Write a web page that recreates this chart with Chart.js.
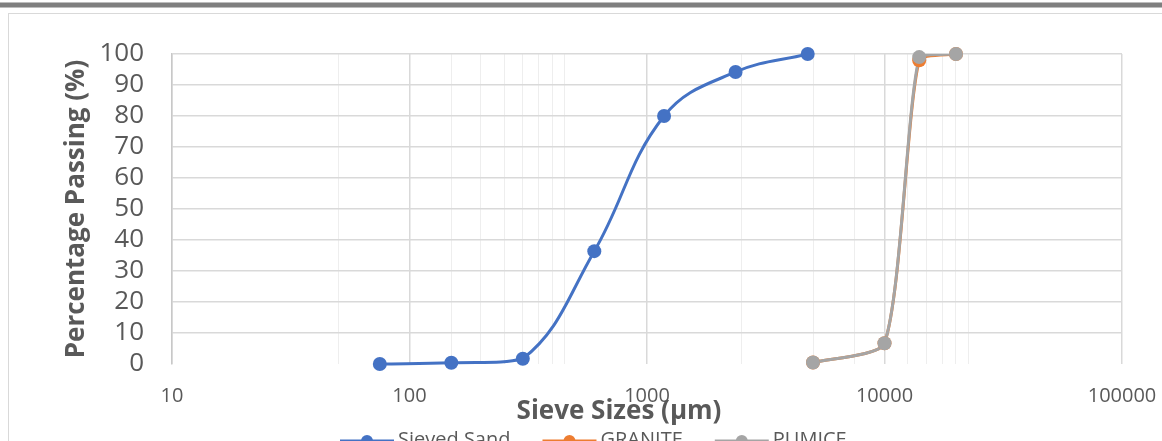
<!doctype html>
<html>

<head>
	<meta charset="utf-8">
	<title>Sieve Analysis</title>
	<script src="https://cdn.jsdelivr.net/npm/chart.js@4.4.1/dist/chart.umd.min.js"></script>
	<style>
		body {
			margin: 0;
			background: #fff;
			overflow: hidden;
		}
		.bar {
			position: absolute;
			left: 0;
			top: 2px;
			width: 1162px;
			height: 4px;
			background: #7f7f7f;
			border-top: 1px solid #bdbdbd;
			border-bottom: 1px solid #bdbdbd;
		}
		.frame {
			position: absolute;
			left: 8px;
			top: 13px;
			width: 1200px;
			height: 500px;
			border-left: 1px solid #d9d9d9;
			border-top: 1px solid #d9d9d9;
		}
		.wrap {
			position: absolute;
			left: 0;
			top: 0;
			width: 1162px;
			height: 441px;
		}
	</style>
</head>

<body>
	<div class="bar"></div>
	<div class="frame"></div>
	<div class="wrap">
		<canvas id="canvas"></canvas>
	</div>
	<script>
		// sieve sizes (µm) and percentage passing
		const sandSize = [75, 150, 300, 600, 1180, 2360, 4750];
		const sandPass = [0, 0.4, 1.7, 36.4, 80, 94.2, 100];
		const graniteSize = [5000, 10000, 14000, 20000];
		const granitePass = [0.5, 6.7, 98, 100];
		const pumiceSize = [5000, 10000, 14000, 20000];
		const pumicePass = [0.5, 6.7, 99, 100];

		const xMajor = [10, 100, 1000, 10000, 100000];
		const xMinor = [50, 150, 200, 250, 300, 350, 400, 450, 2500, 5000, 7500, 12500, 15000, 17500, 20000, 22500];
		const yTicks = [0, 10, 20, 30, 40, 50, 60, 70, 80, 90, 100];

		const xTitle = 'Sieve Sizes (\u00b5m)';
		const yTitle = 'Percentage Passing (%)';

		const textColor = '#595959';
		const family = "'Open Sans', 'Noto Sans', sans-serif";
		Chart.defaults.font.family = family;

		const series = [
			{ name: 'Sieved Sand', color: '#4472C4', size: sandSize, pass: sandPass, order: 1, tension: 0.4 },
			{ name: 'GRANITE', color: '#ED7D31', size: graniteSize, pass: granitePass, order: 3, tension: 0.2 },
			{ name: 'PUMICE', color: '#A5A5A5', size: pumiceSize, pass: pumicePass, order: 2, tension: 0.2 }
		];

		const toPoints = (xs, ys) => xs.map((x, i) => ({ x: x, y: ys[i] }));

		const datasets = [];
		series.forEach((s) => {
			// smoothed line, clipped at the top of the plot like the sheet does
			datasets.push({
				label: s.name,
				data: toPoints(s.size, s.pass),
				showLine: true,
				borderColor: s.color,
				borderWidth: 3,
				pointRadius: 0,
				tension: s.tension,
				clip: { left: 10, right: 10, top: 0, bottom: 10 },
				order: s.order + 10
			});
			// markers on top, never clipped
			datasets.push({
				label: s.name + ' markers',
				data: toPoints(s.size, s.pass),
				showLine: false,
				pointRadius: 7,
				pointBackgroundColor: s.color,
				pointBorderColor: s.color,
				pointBorderWidth: 0,
				clip: false,
				order: s.order
			});
		});

		// x title (centred on the whole chart, not the plot) and the legend row
		const sheetLegend = {
			id: 'sheetLegend',
			afterDraw(chart) {
				const ctx = chart.ctx;
				ctx.save();
				ctx.fillStyle = textColor;
				ctx.font = 'bold 26px ' + family;
				ctx.textBaseline = 'middle';
				ctx.textAlign = 'center';
				ctx.fillText(xTitle, 619, 412);

				const y = 440;
				let x = 340;
				ctx.font = '20px ' + family;
				ctx.textAlign = 'left';
				series.forEach((s) => {
					ctx.strokeStyle = s.color;
					ctx.lineWidth = 3;
					ctx.beginPath();
					ctx.moveTo(x, y + 1);
					ctx.lineTo(x + 54, y + 1);
					ctx.stroke();
					ctx.fillStyle = s.color;
					ctx.beginPath();
					ctx.arc(x + 27, y + 1, 6, 0, Math.PI * 2);
					ctx.fill();
					ctx.fillStyle = textColor;
					ctx.fillText(s.name, x + 58, y);
					x += 58 + ctx.measureText(s.name).width + 32;
				});
				ctx.restore();
			}
		};

		const config = {
			type: 'scatter',
			data: { datasets: datasets },
			plugins: [sheetLegend],
			options: {
				responsive: true,
				maintainAspectRatio: false,
				animation: false,
				layout: {
					padding: { top: 54, right: 40, left: 0, bottom: 0 }
				},
				plugins: {
					legend: { display: false },
					tooltip: { enabled: false }
				},
				scales: {
					x: {
						type: 'logarithmic',
						min: 10,
						max: 100000,
						afterBuildTicks(scale) {
							scale.ticks = xMajor.concat(xMinor).sort((a, b) => a - b).map((v) => ({ value: v }));
						},
						afterFit(scale) {
							scale.height = 77;
							scale.paddingLeft = 0;
							scale.paddingRight = 0;
						},
						ticks: {
							autoSkip: false,
							maxRotation: 0,
							padding: 20,
							color: textColor,
							font: { size: 20 },
							callback: (v) => (xMajor.includes(v) ? String(v) : '')
						},
						grid: {
							drawTicks: false,
							color: (c) => (c.tick && xMajor.includes(c.tick.value) ? '#d9d9d9' : '#eeeeee'),
							lineWidth: (c) => (c.tick && xMajor.includes(c.tick.value) ? 1.5 : 1)
						},
						border: { display: false },
						title: { display: false }
					},
					y: {
						min: 0,
						max: 100,
						afterBuildTicks(scale) {
							scale.ticks = yTicks.map((v) => ({ value: v }));
						},
						afterFit(scale) {
							scale.width = 172;
							scale.paddingTop = 0;
							scale.paddingBottom = 0;
						},
						ticks: {
							autoSkip: false,
							padding: 28,
							color: textColor,
							font: { size: 26 }
						},
						grid: {
							drawTicks: false,
							color: (c) => (c.tick && c.tick.value === 0 ? 'rgba(0,0,0,0)' : '#d9d9d9'),
							lineWidth: 1.5
						},
						border: { display: true, color: '#c8c8c8', width: 1.5 },
						title: {
							display: true,
							text: yTitle,
							color: textColor,
							font: { size: 26, weight: 'bold' },
							padding: { top: 61, bottom: 0 }
						}
					}
				}
			}
		};

		window.onload = function() {
			window.myChart = new Chart(document.getElementById('canvas'), config);
		};
	</script>
</body>

</html>
